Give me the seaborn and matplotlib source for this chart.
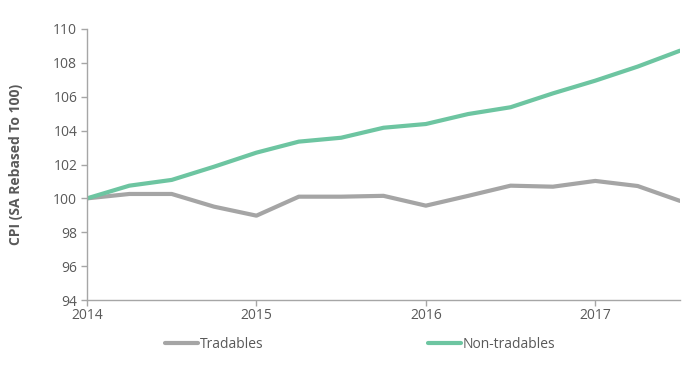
import pandas as pd
import matplotlib.pyplot as plt
import seaborn as sns

# quarterly CPI, rebased to 100 at 2014
quarters = [2014.0, 2014.25, 2014.5, 2014.75, 2015.0, 2015.25, 2015.5, 2015.75,
            2016.0, 2016.25, 2016.5, 2016.75, 2017.0, 2017.25, 2017.5]
tradables = [100.0, 100.26, 100.26, 99.51, 98.98, 100.1, 100.1, 100.15,
             99.57, 100.15, 100.75, 100.69, 101.03, 100.73, 99.85]
non_tradables = [100.0, 100.75, 101.09, 101.87, 102.7, 103.35, 103.58, 104.17,
                 104.39, 104.98, 105.38, 106.2, 106.95, 107.78, 108.72]
year_ticks = [2014, 2015, 2016, 2017]
y_ticks = list(range(94, 111, 2))

df = pd.concat([
    pd.DataFrame({"Quarter": quarters, "CPI": tradables, "Series": "Tradables"}),
    pd.DataFrame({"Quarter": quarters, "CPI": non_tradables, "Series": "Non-tradables"}),
])

sns.set_style("white")
plt.rcParams['font.family'] = ['Open Sans', 'DejaVu Sans']
text_col = "#595959"
axis_col = "#A6A6A6"

fig = plt.figure(figsize=(6.94, 3.66), dpi=100)
ax = fig.add_axes([87 / 694, 1 - 300 / 366, (680 - 87) / 694, (300 - 29) / 366])

sns.lineplot(data=df, x="Quarter", y="CPI", hue="Series",
             palette={"Tradables": "#A5A5A5", "Non-tradables": "#6DC5A1"},
             linewidth=3, ax=ax, legend=False)

ax.set_xlim(2014, 2017.5)
ax.set_ylim(94, 110)
ax.set_xticks(year_ticks)
ax.set_xticklabels([str(y) for y in year_ticks])
ax.set_yticks(y_ticks)
ax.set_xlabel("")
ax.set_ylabel("CPI (SA Rebased To 100)", fontsize=10, fontweight="bold",
              color=text_col, labelpad=22)

for side in ["top", "right"]:
    ax.spines[side].set_visible(False)
for side in ["left", "bottom"]:
    ax.spines[side].set_color(axis_col)
    ax.spines[side].set_linewidth(1)
ax.tick_params(axis="both", which="major", length=4, width=1, color=axis_col,
               labelcolor=text_col, labelsize=10, direction="out",
               left=True, bottom=True)
ax.tick_params(axis="x", pad=2)
ax.tick_params(axis="y", pad=3)

handles = [plt.Line2D([], [], color="#A5A5A5", lw=3),
           plt.Line2D([], [], color="#6DC5A1", lw=3)]
fig.legend(handles, ["Tradables", "Non-tradables"], loc="center",
           bbox_to_anchor=(0.519, 0.06), ncol=2, frameon=False,
           handlelength=2.4, handletextpad=0.15, columnspacing=11.8,
           labelcolor=text_col, fontsize=10)

fig.savefig("out.png", dpi=100)
